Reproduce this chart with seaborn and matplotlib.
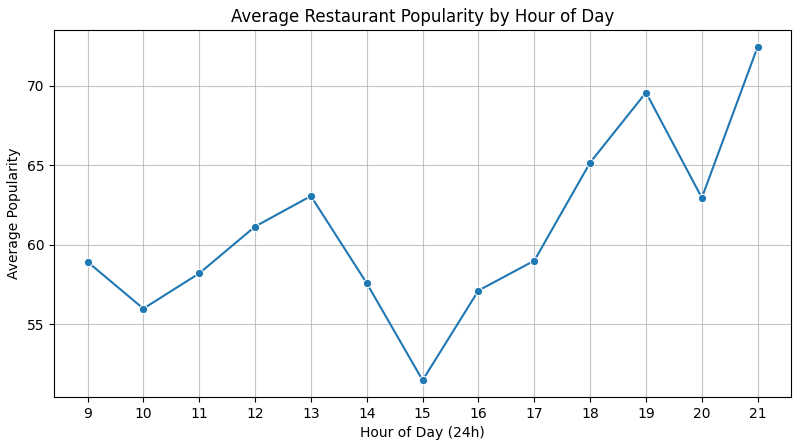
import matplotlib
matplotlib.use('Agg')
import matplotlib.pyplot as plt
import seaborn as sns
import pandas as pd

hours = [9, 10, 11, 12, 13, 14, 15, 16, 17, 18, 19, 20, 21]
popularity = [58.92, 55.97, 58.19, 61.14, 63.06, 57.57, 51.46, 57.11, 58.99, 65.17, 69.58, 62.95, 72.47]

df = pd.DataFrame({'hour': hours, 'popularity': popularity})

fig, ax = plt.subplots(figsize=(8, 4.47), dpi=100)
sns.lineplot(data=df, x='hour', y='popularity', marker='o', ax=ax)

ax.set_title('Average Restaurant Popularity by Hour of Day')
ax.set_xlabel('Hour of Day (24h)')
ax.set_ylabel('Average Popularity')
ax.set_xticks(hours)
ax.grid(True, alpha=0.75)

plt.subplots_adjust(left=0.0675, right=0.989, top=0.933, bottom=0.112)
plt.savefig('out.png')
